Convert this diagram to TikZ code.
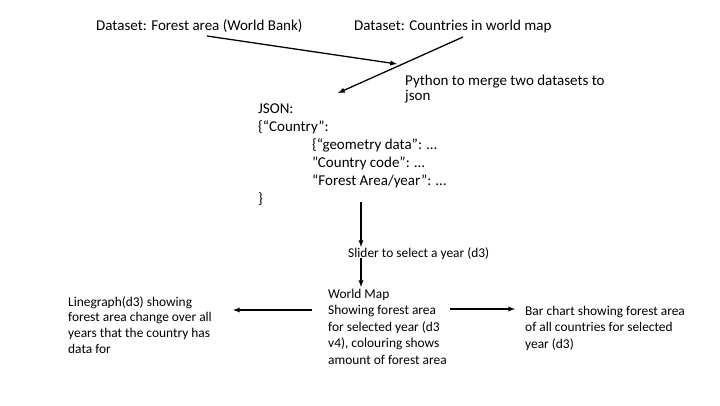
\documentclass[tikz,border=0pt]{standalone}
\usepackage{fontspec}
\setmainfont{Carlito}
\begin{document}
\begin{tikzpicture}[x=1pt,y=-1pt]
\tikzstyle{dep}= [->,>=latex,line width=1.3pt]
\tikzstyle{txt}= [anchor=base west,inner sep=0pt,align=left,font=\fontsize{15}{18}\selectfont]
\tikzstyle{small}= [txt,font=\fontsize{13.4}{16.2}\selectfont]
\useasboundingbox (0,0) rectangle (720,405);

% multi-line texts are placed by the baseline of their last line
\path
	( 96, 30) node[txt] (forest) {Dataset: Forest area (World Bank)}
	(354, 30) node[txt] (world) {Dataset: Countries in world map}
	(405,100) node[txt,font=\fontsize{15}{15}\selectfont] (python) {Python to merge two datasets to\\json}
	(258,203) node[txt] (json) {JSON:\\
		\{“Country”:\\
		\hspace*{54pt}\{“geometry data”: …\\
		\hspace*{54pt}”Country code”: …\\
		\hspace*{54pt}“Forest Area/year”: …\\
		\}}
	(348,257) node[small] (slider) {Slider to select a year (d3)}
	(328,364) node[small,font=\fontsize{13.4}{16.4}\selectfont] (map) {World Map\\Showing forest area\\for selected year (d3\\v4), colouring shows\\amount of forest area}
	( 68,353) node[small,font=\fontsize{13.4}{15.6}\selectfont] (line) {Linegraph(d3) showing\\forest area change over all\\years that the country has\\data for}
	(525,348) node[small] (bar) {Bar chart showing forest area\\of all countries for selected\\year (d3)}
;
% free ends of the connectors
\path
	(207,36) coordinate (forest-out)
	(463,37) coordinate (world-out)
	(397,64) coordinate (merge)
	(338,93) coordinate (json-in)
	(361,202) coordinate (json-out)
	(361,247) coordinate (slider-in)
	(361,258) coordinate (slider-out)
	(361,287) coordinate (map-in)
	(312,310) coordinate (map-left)
	(233,310) coordinate (line-in)
	(450,309) coordinate (map-right)
	(515,309) coordinate (bar-in)
;
\draw[dep] (forest-out) -- (merge);
\draw[dep] (world-out) -- (json-in);
\draw[dep] (json-out) -- (slider-in);
\draw[dep] (slider-out) -- (map-in);
\draw[dep] (map-left) -- (line-in);
\draw[dep] (map-right) -- (bar-in);
\end{tikzpicture}
\end{document}
